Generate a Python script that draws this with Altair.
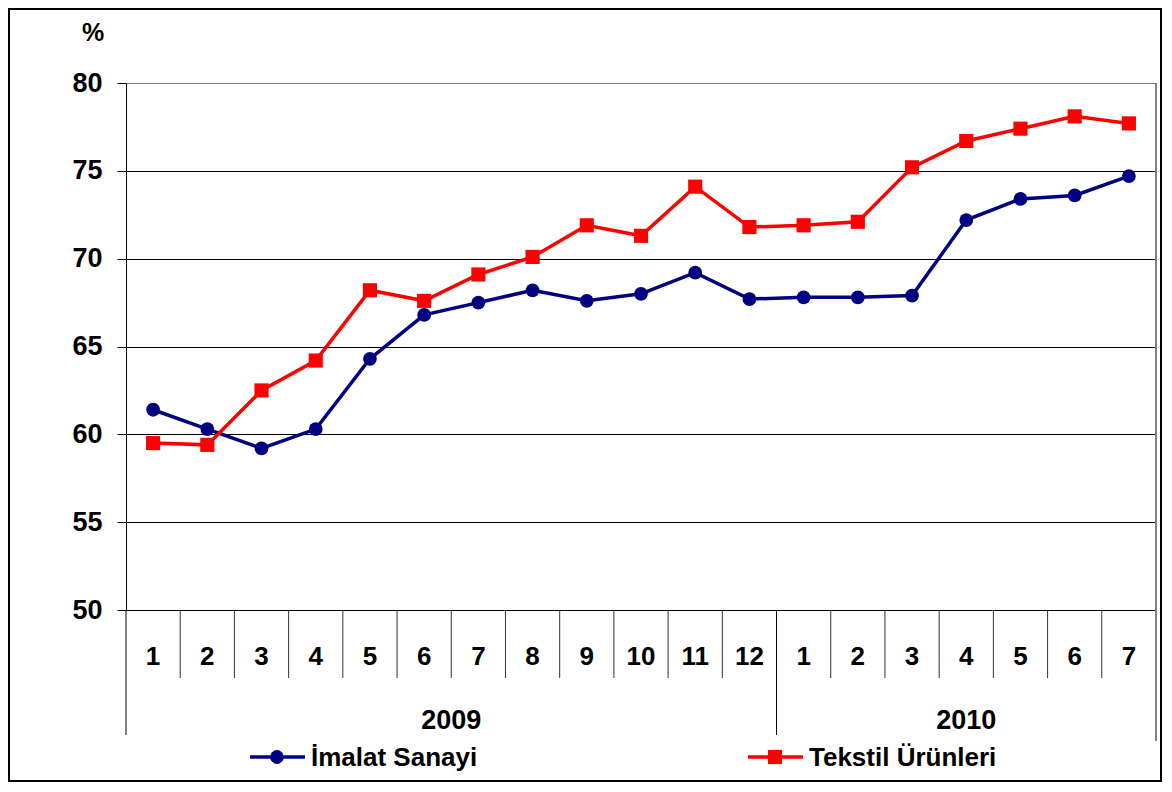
import altair as alt
import pandas as pd

months = ["1", "2", "3", "4", "5", "6", "7", "8", "9", "10", "11", "12",
          "1", "2", "3", "4", "5", "6", "7"]
year_labels = ["2009", "2010"]
year_starts = [0, 12]
year_ends = [12, 19]
imalat = [61.4, 60.3, 59.2, 60.3, 64.3, 66.8, 67.5, 68.2, 67.6, 68.0, 69.2, 67.7,
          67.8, 67.8, 67.9, 72.2, 73.4, 73.6, 74.7]
tekstil = [59.5, 59.4, 62.5, 64.2, 68.2, 67.6, 69.1, 70.1, 71.9, 71.3, 74.1, 71.8,
           71.9, 72.1, 75.2, 76.7, 77.4, 78.1, 77.7]
series_names = ["İmalat Sanayi", "Tekstil Ürünleri"]
colors = ["#000080", "#FF0000"]
shapes = ["circle", "square"]
marker_sizes = [190, 200]
y_ticks = [50, 55, 60, 65, 70, 75, 80]

FONT = "Liberation Sans"
W, H = 1030, 527
PAD_L, PAD_T, PAD_R, PAD_B = 118, 75, 6, 172
N = len(months)

pos = [i + 0.5 for i in range(N)]
rows = []
for name, vals in zip(series_names, [imalat, tekstil]):
    for p, m, v in zip(pos, months, vals):
        rows.append({"pos": p, "month": m, "series": name, "value": v})
df = pd.DataFrame(rows)
mdf = pd.DataFrame({"pos": pos, "month": months})
xs = alt.Scale(domain=[0, N])
ys = alt.Scale(domain=[50, 80])

color_scale = alt.Scale(domain=series_names, range=colors)
shape_scale = alt.Scale(domain=series_names, range=shapes)
size_scale = alt.Scale(domain=series_names, range=marker_sizes)

one = pd.DataFrame({"a": [0]})

# frame around whole chart
frame = alt.Chart(one).mark_rect(fillOpacity=0, stroke="black", strokeWidth=2).encode(
    x=alt.value(-PAD_L + 1), x2=alt.value(W + PAD_R - 1),
    y=alt.value(-PAD_T + 1), y2=alt.value(H + PAD_B - 1))

axis_layer = alt.Chart(pd.DataFrame({"value": y_ticks})).mark_point(opacity=0).encode(
    y=alt.Y("value:Q", scale=ys, title=None, axis=alt.Axis(
        values=y_ticks, title=None, grid=True,
        gridColor=alt.condition("datum.value == 80", alt.value("#808080"), alt.value("#000000")),
        gridWidth=1, domainColor="black", tickColor="black", tickSize=9,
        labelFont=FONT, labelFontSize=27, labelFontWeight="bold", labelColor="black",
        labelPadding=15, format="d")))

lines = alt.Chart(df).mark_line(strokeWidth=3.5).encode(
    x=alt.X("pos:Q", scale=xs, axis=None),
    y=alt.Y("value:Q", scale=ys, title=None),
    color=alt.Color("series:N", scale=color_scale, legend=None))

points = alt.Chart(df).mark_point(filled=True, opacity=1).encode(
    x=alt.X("pos:Q", scale=xs, axis=None),
    y=alt.Y("value:Q", scale=ys, title=None),
    color=alt.Color("series:N", scale=color_scale, legend=None),
    shape=alt.Shape("series:N", scale=shape_scale, legend=None),
    size=alt.Size("series:N", scale=size_scale, legend=None))

short_k = [k for k in range(1, N) if k not in year_starts]
short_sep = alt.Chart(pd.DataFrame({"k": short_k})).mark_rule(color="#333333", strokeWidth=1).encode(
    x=alt.X("k:Q", scale=xs, axis=None), y=alt.value(H), y2=alt.value(H + 68))
long_sep = alt.Chart(pd.DataFrame({"k": year_starts})).mark_rule(color="black", strokeWidth=1).encode(
    x=alt.X("k:Q", scale=xs, axis=None), y=alt.value(H), y2=alt.value(H + 125))
right_sep = alt.Chart(pd.DataFrame({"k": [N]})).mark_rule(color="#808080", strokeWidth=2).encode(
    x=alt.X("k:Q", scale=xs, axis=None), y=alt.value(0), y2=alt.value(H + 131))

month_text = alt.Chart(mdf).mark_text(font=FONT, fontSize=26, fontWeight="bold",
                                      color="black", baseline="middle").encode(
    x=alt.X("pos:Q", scale=xs, axis=None), y=alt.value(H + 47), text="month:N")

ydf = pd.DataFrame({"label": year_labels,
                    "mid": [(a + b) / 2 for a, b in zip(year_starts, year_ends)]})
year_text = alt.Chart(ydf).mark_text(font=FONT, fontSize=27, fontWeight="bold",
                                     color="black", baseline="middle").encode(
    x=alt.X("mid:Q", scale=xs, axis=None), y=alt.value(H + 111), text="label:N")

pct = alt.Chart(one).mark_text(text="%", font=FONT, fontSize=25, fontWeight="bold",
                               color="black", baseline="middle").encode(
    x=alt.value(-33), y=alt.value(-50))

legend_layers = []
leg_x0 = [124, 622]
LEG_Y = H + 147
for name, col, shp, sz, x0 in zip(series_names, colors, shapes, marker_sizes, leg_x0):
    legend_layers.append(alt.Chart(one).mark_rule(color=col, strokeWidth=3.5).encode(
        x=alt.value(x0), x2=alt.value(x0 + 55), y=alt.value(LEG_Y)))
    legend_layers.append(alt.Chart(one).mark_point(filled=True, opacity=1, size=sz,
                                                   shape=shp, color=col).encode(
        x=alt.value(x0 + 27), y=alt.value(LEG_Y)))
    legend_layers.append(alt.Chart(one).mark_text(text=name, font=FONT, fontSize=26,
                                                  fontWeight="bold", color="black",
                                                  align="left", baseline="middle").encode(
        x=alt.value(x0 + 61), y=alt.value(LEG_Y + 1)))

chart = alt.layer(frame, axis_layer, short_sep, long_sep, right_sep, lines, points,
                  month_text, year_text, pct, *legend_layers).properties(
    width=W, height=H,
    padding={"left": PAD_L, "top": PAD_T, "right": PAD_R, "bottom": PAD_B},
    autosize=alt.AutoSizeParams(type="none"),
).configure_view(stroke=None).configure(background="white")

chart.save("out.html", embed_options={"renderer": "svg", "actions": False})
